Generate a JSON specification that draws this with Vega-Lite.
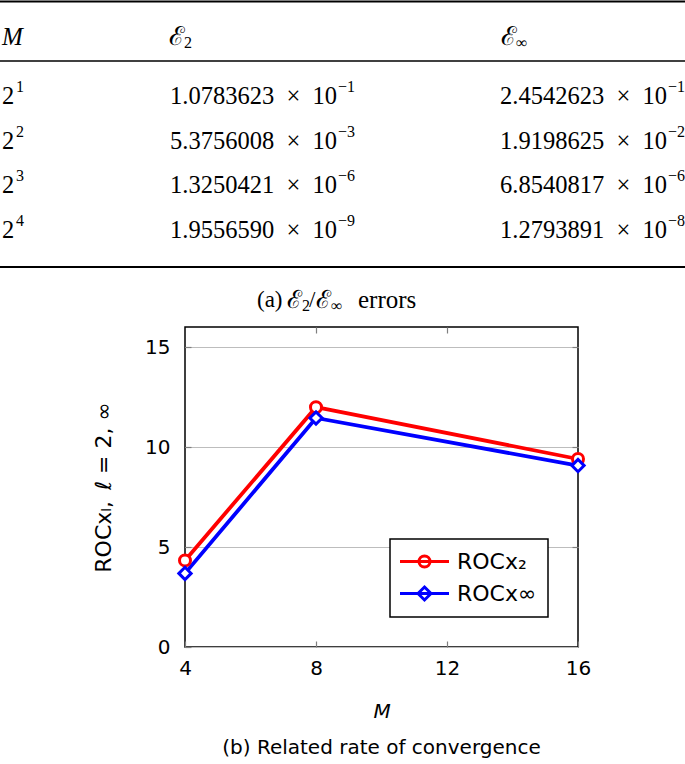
{
  "$schema": "https://vega.github.io/schema/vega-lite/v6.json",
  "width": 393,
  "height": 320,
  "autosize": {"type": "none"},
  "padding": {"left": 185, "top": 327, "right": 107, "bottom": 117},
  "background": "white",
  "config": {
    "view": {"stroke": "black", "strokeWidth": 1.5},
    "axis": {
      "labelFont": "DejaVu Sans", "labelFontSize": 20, "labelColor": "black",
      "titleFont": "DejaVu Sans", "titleFontSize": 20, "titleFontWeight": "normal", "titleColor": "black",
      "tickColor": "#7f7f7f", "tickWidth": 1.2, "tickSize": -6, "domain": false, "labelFlush": false
    }
  },
  "datasets": {
    "roc": [
      {"M": 4, "series": "ROCx₂", "roc": 4.33},
      {"M": 8, "series": "ROCx₂", "roc": 11.99},
      {"M": 16, "series": "ROCx₂", "roc": 9.40},
      {"M": 4, "series": "ROCx∞", "roc": 3.68},
      {"M": 8, "series": "ROCx∞", "roc": 11.45},
      {"M": 16, "series": "ROCx∞", "roc": 9.07}
    ],
    "table": [
      {"row": 1, "m": "2", "mexp": "1", "e2": "1.0783623\u2002×\u200210", "e2exp": "−1", "einf": "2.4542623\u2002×\u200210", "einfexp": "−1"},
      {"row": 2, "m": "2", "mexp": "2", "e2": "5.3756008\u2002×\u200210", "e2exp": "−3", "einf": "1.9198625\u2002×\u200210", "einfexp": "−2"},
      {"row": 3, "m": "2", "mexp": "3", "e2": "1.3250421\u2002×\u200210", "e2exp": "−6", "einf": "6.8540817\u2002×\u200210", "einfexp": "−6"},
      {"row": 4, "m": "2", "mexp": "4", "e2": "1.9556590\u2002×\u200210", "e2exp": "−9", "einf": "1.2793891\u2002×\u200210", "einfexp": "−8"}
    ],
    "header": [
      {"col": "M", "label": "M", "sub": ""},
      {"col": "E2", "label": "ℰ", "sub": "2"},
      {"col": "Einf", "label": "ℰ", "sub": "∞"}
    ],
    "one": [{"item": "rule"}]
  },
  "title": {
    "text": "(b) Related rate of convergence",
    "orient": "bottom", "anchor": "middle",
    "font": "DejaVu Sans", "fontSize": 20, "fontWeight": "normal", "color": "black", "offset": 17
  },
  "layer": [
    {
      "data": {"name": "roc"},
      "encoding": {
        "x": {"field": "M", "type": "quantitative",
          "scale": {"domain": [4, 16], "nice": false, "zero": false},
          "axis": {"orient": "bottom", "values": [4, 8, 12, 16], "title": "M", "titleFontStyle": "italic", "labelPadding": 17, "titlePadding": 23, "grid": false}},
        "y": {"field": "roc", "type": "quantitative",
          "scale": {"domain": [0, 16], "nice": false, "zero": true},
          "axis": {"orient": "left", "values": [0, 5, 10, 15], "title": "ROCxₗ,\u2002ℓ = 2, ∞", "titleFontSize": 22, "grid": true, "gridColor": "#bdbdbd", "gridWidth": 1.2, "labelPadding": 21, "titlePadding": 29}},
        "color": {"field": "series", "type": "nominal",
          "scale": {"domain": ["ROCx₂", "ROCx∞"], "range": ["#ff0000", "#0000ff"]},
          "legend": {
            "orient": "none", "legendX": 205, "legendY": 212, "title": null,
            "strokeColor": "black", "fillColor": "white", "padding": 11, "cornerRadius": 0,
            "labelFont": "DejaVu Sans", "labelFontSize": 22, "labelColor": "black",
            "symbolSize": 400, "symbolStrokeWidth": 3, "rowPadding": 8, "labelOffset": 21, "symbolOffset": 12,
            "encode": {
              "legend": {"update": {"strokeWidth": {"value": 1.5}}},
              "symbols": {
                "update": {
                  "shape": {"signal": "datum.index === 0 ? 'M-2.45,0H2.45M0.55,0A0.55,0.55,0,1,1,-0.55,0A0.55,0.55,0,1,1,0.55,0Z' : 'M-2.45,0H2.45M0,-0.65L0.65,0L0,0.65L-0.65,0Z'"},
                  "fill": {"value": "white"},
                  "fillOpacity": {"value": 1},
                  "strokeWidth": {"value": 3}
                }
              }
            }
          }}
      },
      "layer": [
        {"mark": {"type": "line", "strokeWidth": 3.8}},
        {
          "transform": [{"filter": "datum.series == 'ROCx₂'"}],
          "mark": {"type": "point", "shape": "circle", "filled": false, "fill": "white", "fillOpacity": 1, "strokeWidth": 3, "size": 121, "opacity": 1},
          "encoding": {
            "x": {"field": "M", "type": "quantitative",
              "scale": {"domain": [4, 16], "nice": false, "zero": false},
              "axis": {"orient": "top", "values": [8, 12], "labels": false, "title": null, "grid": false}},
            "y": {"field": "roc", "type": "quantitative",
              "scale": {"domain": [0, 16], "nice": false, "zero": true},
              "axis": {"orient": "right", "values": [5, 10, 15], "labels": false, "title": null, "grid": false}}
          }
        },
        {
          "transform": [{"filter": "datum.series == 'ROCx∞'"}],
          "mark": {"type": "point", "shape": "diamond", "filled": false, "fill": "white", "fillOpacity": 1, "strokeWidth": 3, "size": 150, "opacity": 1},
          "encoding": {
            "x": {"field": "M", "type": "quantitative", "axis": null},
            "y": {"field": "roc", "type": "quantitative", "axis": null}
          }
        }
      ],
      "resolve": {"axis": {"x": "independent", "y": "independent"}}
    },
    {
      "layer": [
        {
          "data": {"name": "table"},
          "mark": {"type": "text", "align": "left", "baseline": "middle", "font": "Liberation Serif", "fontSize": 24.5, "color": "black"},
          "encoding": {
            "x": {"datum": "M", "type": "nominal", "scale": {"type": "point", "domain": ["M", "E2", "_", "Einf"], "range": [-183, 315], "padding": 0}, "axis": null},
            "y": {"field": "row", "type": "quantitative", "scale": {"domain": [1, 4], "range": [-230, -96], "zero": false, "nice": false}, "axis": null},
            "text": {"field": "m"}
          }
        },
        {
          "data": {"name": "table"},
          "mark": {"type": "text", "align": "left", "baseline": "middle", "font": "Liberation Serif", "fontSize": 16, "color": "black", "dx": 14, "dy": -10},
          "encoding": {
            "x": {"datum": "M", "type": "nominal", "axis": null},
            "y": {"field": "row", "type": "quantitative", "axis": null},
            "text": {"field": "mexp"}
          }
        },
        {
          "data": {"name": "table"},
          "mark": {"type": "text", "align": "left", "baseline": "middle", "font": "Liberation Serif", "fontSize": 24.5, "color": "black", "dx": 2},
          "encoding": {
            "x": {"datum": "E2", "type": "nominal", "axis": null},
            "y": {"field": "row", "type": "quantitative", "axis": null},
            "text": {"field": "e2"}
          }
        },
        {
          "data": {"name": "table"},
          "mark": {"type": "text", "align": "left", "baseline": "middle", "font": "Liberation Serif", "fontSize": 16, "color": "black", "dx": 170, "dy": -10},
          "encoding": {
            "x": {"datum": "E2", "type": "nominal", "axis": null},
            "y": {"field": "row", "type": "quantitative", "axis": null},
            "text": {"field": "e2exp"}
          }
        },
        {
          "data": {"name": "table"},
          "mark": {"type": "text", "align": "left", "baseline": "middle", "font": "Liberation Serif", "fontSize": 24.5, "color": "black"},
          "encoding": {
            "x": {"datum": "Einf", "type": "nominal", "axis": null},
            "y": {"field": "row", "type": "quantitative", "axis": null},
            "text": {"field": "einf"}
          }
        },
        {
          "data": {"name": "table"},
          "mark": {"type": "text", "align": "left", "baseline": "middle", "font": "Liberation Serif", "fontSize": 16, "color": "black", "dx": 168, "dy": -10},
          "encoding": {
            "x": {"datum": "Einf", "type": "nominal", "axis": null},
            "y": {"field": "row", "type": "quantitative", "axis": null},
            "text": {"field": "einfexp"}
          }
        },
        {
          "data": {"name": "header"},
          "transform": [{"filter": "datum.col == 'M'"}],
          "mark": {"type": "text", "align": "left", "baseline": "middle", "font": "Liberation Serif", "fontSize": 25, "fontStyle": "italic", "color": "black"},
          "encoding": {
            "x": {"field": "col", "type": "nominal", "axis": null},
            "y": {"datum": -0.343, "type": "quantitative", "axis": null},
            "text": {"field": "label"}
          }
        },
        {
          "data": {"name": "header"},
          "transform": [{"filter": "datum.col != 'M'"}],
          "mark": {"type": "text", "align": "left", "baseline": "middle", "font": "Liberation Serif", "fontSize": 26, "color": "black", "dx": 1},
          "encoding": {
            "x": {"field": "col", "type": "nominal", "axis": null},
            "y": {"datum": -0.343, "type": "quantitative", "axis": null},
            "text": {"field": "label"}
          }
        },
        {
          "data": {"name": "header"},
          "transform": [{"filter": "datum.col != 'M'"}],
          "mark": {"type": "text", "align": "left", "baseline": "middle", "font": "Liberation Serif", "fontSize": 16, "color": "black", "dx": 16, "dy": 6},
          "encoding": {
            "x": {"field": "col", "type": "nominal", "axis": null},
            "y": {"datum": -0.343, "type": "quantitative", "axis": null},
            "text": {"field": "sub"}
          }
        },
        {
          "data": {"name": "one"},
          "mark": {"type": "rule", "color": "black", "strokeWidth": 2.2, "xOffset": -2, "x2Offset": 185},
          "encoding": {
            "x": {"datum": "M", "type": "nominal", "axis": null},
            "x2": {"datum": "Einf"},
            "y": {"datum": -1.138, "type": "quantitative", "axis": null}
          }
        },
        {
          "data": {"name": "one"},
          "mark": {"type": "rule", "color": "black", "strokeWidth": 1.4, "xOffset": -2, "x2Offset": 185},
          "encoding": {
            "x": {"datum": "M", "type": "nominal", "axis": null},
            "x2": {"datum": "Einf"},
            "y": {"datum": 0.194, "type": "quantitative", "axis": null}
          }
        },
        {
          "data": {"name": "one"},
          "mark": {"type": "rule", "color": "black", "strokeWidth": 2.2, "xOffset": -2, "x2Offset": 185},
          "encoding": {
            "x": {"datum": "M", "type": "nominal", "axis": null},
            "x2": {"datum": "Einf"},
            "y": {"datum": 4.806, "type": "quantitative", "axis": null}
          }
        },
        {
          "data": {"name": "one"},
          "mark": {"type": "text", "align": "left", "baseline": "middle", "font": "Liberation Serif", "fontSize": 23, "color": "black", "dx": 89},
          "encoding": {
            "x": {"datum": "E2", "type": "nominal", "axis": null},
            "y": {"datum": 5.545, "type": "quantitative", "axis": null},
            "text": {"value": "(a)"}
          }
        },
        {
          "data": {"name": "one"},
          "mark": {"type": "text", "align": "left", "baseline": "middle", "font": "Liberation Serif", "fontSize": 25, "color": "black", "dx": 119},
          "encoding": {
            "x": {"datum": "E2", "type": "nominal", "axis": null},
            "y": {"datum": 5.545, "type": "quantitative", "axis": null},
            "text": {"value": "ℰ"}
          }
        },
        {
          "data": {"name": "one"},
          "mark": {"type": "text", "align": "left", "baseline": "middle", "font": "Liberation Serif", "fontSize": 16, "color": "black", "dx": 134, "dy": 6},
          "encoding": {
            "x": {"datum": "E2", "type": "nominal", "axis": null},
            "y": {"datum": 5.545, "type": "quantitative", "axis": null},
            "text": {"value": "2"}
          }
        },
        {
          "data": {"name": "one"},
          "mark": {"type": "text", "align": "left", "baseline": "middle", "font": "Liberation Serif", "fontSize": 23, "color": "black", "dx": 141},
          "encoding": {
            "x": {"datum": "E2", "type": "nominal", "axis": null},
            "y": {"datum": 5.545, "type": "quantitative", "axis": null},
            "text": {"value": "/"}
          }
        },
        {
          "data": {"name": "one"},
          "mark": {"type": "text", "align": "left", "baseline": "middle", "font": "Liberation Serif", "fontSize": 25, "color": "black", "dx": 148},
          "encoding": {
            "x": {"datum": "E2", "type": "nominal", "axis": null},
            "y": {"datum": 5.545, "type": "quantitative", "axis": null},
            "text": {"value": "ℰ"}
          }
        },
        {
          "data": {"name": "one"},
          "mark": {"type": "text", "align": "left", "baseline": "middle", "font": "Liberation Serif", "fontSize": 16, "color": "black", "dx": 163, "dy": 6},
          "encoding": {
            "x": {"datum": "E2", "type": "nominal", "axis": null},
            "y": {"datum": 5.545, "type": "quantitative", "axis": null},
            "text": {"value": "∞"}
          }
        },
        {
          "data": {"name": "one"},
          "mark": {"type": "text", "align": "left", "baseline": "middle", "font": "Liberation Serif", "fontSize": 25, "color": "black", "dx": 190},
          "encoding": {
            "x": {"datum": "E2", "type": "nominal", "axis": null},
            "y": {"datum": 5.545, "type": "quantitative", "axis": null},
            "text": {"value": "errors"}
          }
        }
      ]
    }
  ],
  "resolve": {"scale": {"x": "independent", "y": "independent"}, "axis": {"x": "independent", "y": "independent"}}
}
